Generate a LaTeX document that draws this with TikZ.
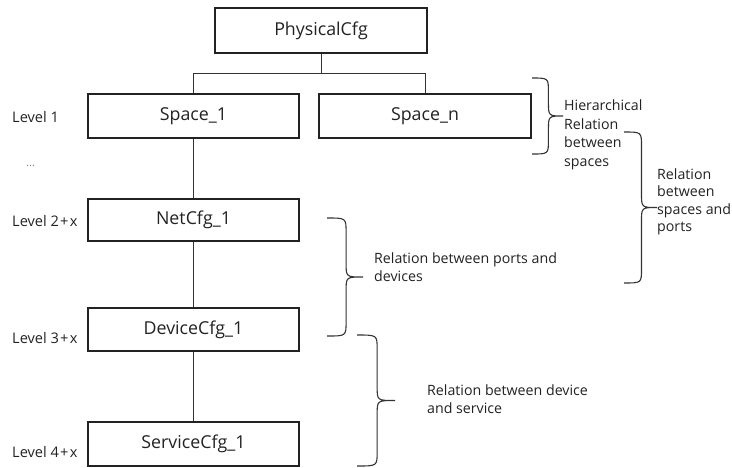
\documentclass[tikz,border=0pt]{standalone}
\usepackage{fontspec}
\setmainfont{Open Sans}
\definecolor{ink}{HTML}{222222}
\definecolor{linegray}{HTML}{333333}
% right-pointing curly brace: x0, y-top, y-bottom, width
\newcommand{\rightbrace}[4]{%
  \draw[bracestyle] (#1,#2)
    .. controls ({#1+0.53*#4},#2) .. ({#1+0.53*#4},{#2+14})
    -- ({#1+0.53*#4},{(#2+#3)/2-14})
    .. controls ({#1+0.53*#4},{(#2+#3)/2}) .. ({#1+#4},{(#2+#3)/2})
    .. controls ({#1+0.53*#4},{(#2+#3)/2}) .. ({#1+0.53*#4},{(#2+#3)/2+14})
    -- ({#1+0.53*#4},{#3-14})
    .. controls ({#1+0.53*#4},#3) .. (#1,#3);}
\newcommand{\lvplus}{\kern1.2pt+\kern1.2pt}
\begin{document}
\begin{tikzpicture}[x=1pt,y=-1pt,
  cfgbox/.style={draw=ink, line width=1.5pt, inner sep=0pt, minimum width=211pt,
    minimum height=44pt, text=ink, font=\fontsize{17.8}{20}\selectfont},
  link/.style={draw=linegray, line width=0.9pt},
  bracestyle/.style={draw=linegray, line width=1.1pt},
  levellabel/.style={anchor=west, inner sep=0pt, text=ink, font=\fontsize{14.6}{17}\selectfont},
  note/.style={anchor=west, inner sep=0pt, align=left, text=ink}]
\useasboundingbox (0,0) rectangle (732,467);

% configuration boxes
\node[cfgbox, minimum width=212pt, minimum height=45pt] (phys) at (321,30.5) {PhysicalCfg};
\node[cfgbox] (s1) at (193.5,116) {Space\_1};
\node[cfgbox, minimum width=212pt] (sn) at (425,116) {Space\_n};
\node[cfgbox, minimum height=42pt] (net) at (193.5,220) {NetCfg\_1};
\node[cfgbox, minimum height=43pt] (dev) at (193.5,329.5) {DeviceCfg\_1};
\node[cfgbox] (svc) at (193.5,444) {ServiceCfg\_1};

% tree connectors
\draw[link] (phys.south) -- ++(0,20) coordinate (bus);
\draw[link] (s1.north) |- (bus) -| (sn.north);
\draw[link] (s1.south) -- (net.north);
\draw[link] (net.south) -- (dev.north);
\draw[link] (dev.south) -- (svc.north);

% level labels
\node[levellabel] (l1) at (12,117) {Level 1};
\node[levellabel, text=ink!55, font=\fontsize{11}{13}\selectfont] (ldots) at (26,166) {...};
\node[levellabel] (l2) at (12,221) {Level 2\lvplus x};
\node[levellabel] (l3) at (12,338) {Level 3\lvplus x};
\node[levellabel] (l4) at (12,452) {Level 4\lvplus x};

% relation braces
\rightbrace{532}{78}{154}{31}
\rightbrace{624}{132}{283}{33}
\rightbrace{327}{218}{336}{36}
\rightbrace{357}{335}{466}{38}

% relation notes
\node[note, font=\fontsize{14.2}{18.6}\selectfont] (hier) at (564,135)
  {Hierarchical\\Relation\\between\\spaces};
\node[note, font=\fontsize{14.2}{17.4}\selectfont] (spport) at (657,202)
  {Relation\\between\\spaces and\\ports};
\node[note, font=\fontsize{14.2}{18}\selectfont] (portdev) at (374,267)
  {Relation between ports and\\devices};
\node[note, font=\fontsize{14.2}{18}\selectfont] (devsvc) at (427,399)
  {Relation between device\\and service};
\end{tikzpicture}
\end{document}
